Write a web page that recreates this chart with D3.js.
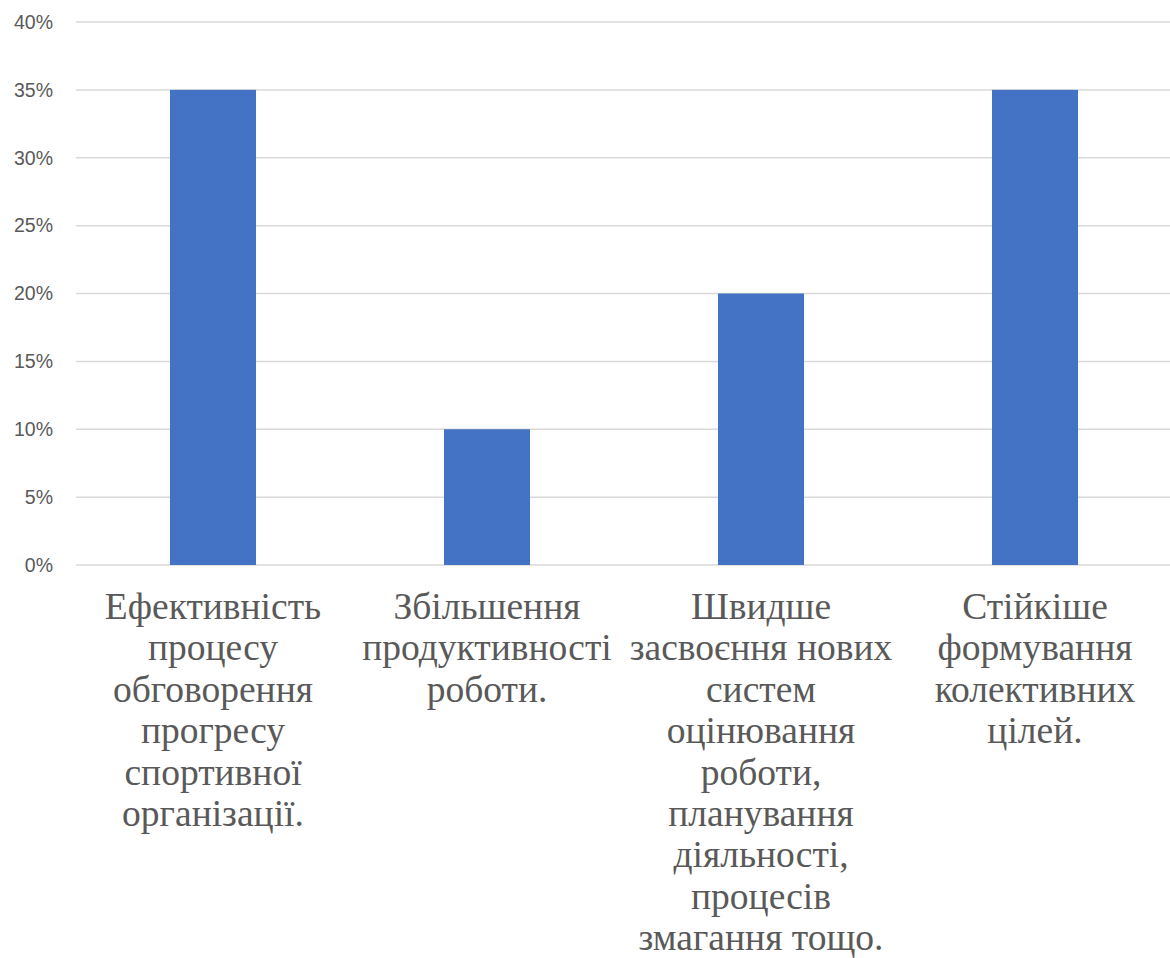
<!DOCTYPE html>
<html>
<head>
<meta charset="utf-8">
<script src="https://cdn.jsdelivr.net/npm/d3@7"></script>
<style>
  html, body { margin: 0; padding: 0; background: #fff; }
  svg { display: block; }
</style>
</head>
<body>
<svg id="chart" width="1170" height="958"></svg>
<script>
const categories = [
  "Ефективність процесу обговорення прогресу спортивної організації.",
  "Збільшення продуктивності роботи.",
  "Швидше засвоєння нових систем оцінювання роботи, планування діяльності, процесів змагання тощо.",
  "Стійкіше формування колективних цілей."
];
const categoryLines = [
  ["Ефективність", "процесу", "обговорення", "прогресу", "спортивної", "організації."],
  ["Збільшення", "продуктивності", "роботи."],
  ["Швидше", "засвоєння нових", "систем", "оцінювання", "роботи,", "планування", "діяльності,", "процесів", "змагання тощо."],
  ["Стійкіше", "формування", "колективних", "цілей."]
];
const values = [0.35, 0.10, 0.20, 0.35];
const yTicks = [0, 0.05, 0.10, 0.15, 0.20, 0.25, 0.30, 0.35, 0.40];

const svg = d3.select("#chart");
const mLeft = 76, mRight = 1172, mTop = 22, mBottom = 565;

const x = d3.scaleBand().domain(categories).range([mLeft, mRight]).padding(0);
const y = d3.scaleLinear().domain([0, 0.40]).range([mBottom, mTop]);
const barFrac = 0.314;

// gridlines
svg.append("g").selectAll("line").data(yTicks).join("line")
  .attr("x1", mLeft).attr("x2", 1170)
  .attr("y1", d => y(d)).attr("y2", d => y(d))
  .attr("stroke", "#d9d9d9").attr("stroke-width", 1.5);

// y labels
svg.append("g").selectAll("text").data(yTicks).join("text")
  .attr("x", 53).attr("y", d => y(d))
  .attr("dy", "0.35em")
  .attr("text-anchor", "end")
  .attr("font-family", "'Liberation Sans', 'Open Sans', sans-serif")
  .attr("font-size", 19.5)
  .attr("fill", "#595959")
  .text(d => d3.format(".0%")(d));

// bars
svg.append("g").selectAll("rect").data(values).join("rect")
  .attr("x", (d, i) => x(categories[i]) + x.bandwidth() * (1 - barFrac) / 2)
  .attr("width", x.bandwidth() * barFrac)
  .attr("y", d => y(d))
  .attr("height", d => y(0) - y(d))
  .attr("fill", "#4472c4");

// category labels
const lab = svg.append("g")
  .attr("font-family", "'Liberation Serif', 'Times New Roman', serif")
  .attr("font-size", 37.5)
  .attr("fill", "#595959")
  .attr("text-anchor", "middle");
categoryLines.forEach((lines, i) => {
  const cx = x(categories[i]) + x.bandwidth() / 2;
  lab.append("text")
    .selectAll("tspan").data(lines).join("tspan")
    .attr("x", cx)
    .attr("y", (d, j) => 619 + j * 41.4)
    .text(d => d);
});
</script>
</body>
</html>
